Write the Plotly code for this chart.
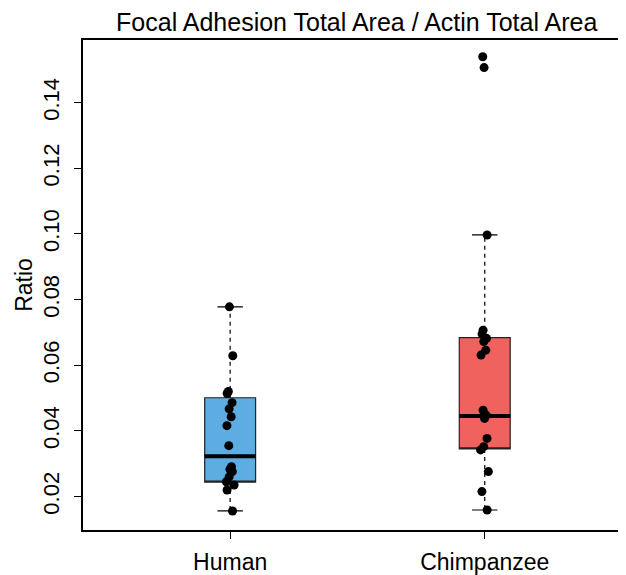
import plotly.graph_objects as go

categories = ["Human", "Chimpanzee"]
colors = ["#5DADE2", "#F0625D"]

human_values = [0.0778, 0.0629, 0.0520, 0.0514, 0.0486, 0.0467, 0.0443, 0.0416, 0.0355,
                0.0291, 0.0283, 0.0276, 0.0260, 0.0245, 0.0235, 0.0220, 0.0156]
chimp_values = [0.1540, 0.1507, 0.0997, 0.0707, 0.0695, 0.0682, 0.0672, 0.0646, 0.0631,
                0.0463, 0.0448, 0.0438, 0.0377, 0.0352, 0.0342, 0.0276, 0.0215, 0.0159]
values = [human_values, chimp_values]

# box statistics (lower whisker, Q1, median, Q3, upper whisker)
lower_whisker = [0.0156, 0.0159]
q1_values = [0.0244, 0.0345]
median_values = [0.0323, 0.0445]
q3_values = [0.0501, 0.0684]
upper_whisker = [0.0778, 0.0997]

yticks = [0.02, 0.04, 0.06, 0.08, 0.10, 0.12, 0.14]
ytick_labels = ["0.02", "0.04", "0.06", "0.08", "0.10", "0.12", "0.14"]

BOX_W = 0.2
fig = go.Figure()

for i, cat in enumerate(categories):
    # dashed whiskers
    fig.add_trace(go.Scatter(
        x=[cat, cat, None, cat, cat],
        y=[q3_values[i], upper_whisker[i], None, q1_values[i], lower_whisker[i]],
        mode="lines", line=dict(color="black", width=1.2, dash="4px,4px"),
        showlegend=False, hoverinfo="skip"))
    # main box
    fig.add_trace(go.Box(
        x=[cat], q1=[q1_values[i]], median=[q1_values[i]], q3=[q3_values[i]],
        lowerfence=[q1_values[i]], upperfence=[q3_values[i]],
        fillcolor=colors[i], line=dict(color="#222222", width=1.2),
        width=BOX_W, whiskerwidth=0, boxpoints=False, showlegend=False))
    # thick median
    m = median_values[i]
    fig.add_trace(go.Box(
        x=[cat], q1=[m], median=[m], q3=[m], lowerfence=[m], upperfence=[m],
        fillcolor="rgba(0,0,0,0)", line=dict(color="black", width=4),
        width=BOX_W, whiskerwidth=0, boxpoints=False, showlegend=False))
    # whisker caps
    for w in (upper_whisker[i], lower_whisker[i]):
        fig.add_trace(go.Box(
            x=[cat], q1=[w], median=[w], q3=[w], lowerfence=[w], upperfence=[w],
            fillcolor="rgba(0,0,0,0)", line=dict(color="black", width=1.2),
            width=BOX_W / 2, whiskerwidth=0, boxpoints=False, showlegend=False))
    # jittered points
    fig.add_trace(go.Box(
        x=[cat] * len(values[i]), y=values[i], boxpoints="all", jitter=0.2, pointpos=0,
        fillcolor="rgba(0,0,0,0)", line=dict(color="rgba(0,0,0,0)", width=0),
        marker=dict(color="black", size=9), width=BOX_W, showlegend=False))

fig.update_layout(
    width=618, height=567,
    margin=dict(l=75, r=0, t=32, b=45),
    paper_bgcolor="white", plot_bgcolor="white",
    boxmode="overlay",
    font=dict(family="Liberation Sans, Arial, sans-serif", color="black"),
    title=dict(text="Focal Adhesion Total Area / Actin Total Area",
               xref="paper", x=0.506, xanchor="center",
               yref="container", y=0.974, yanchor="middle",
               font=dict(size=25, color="black")),
    xaxis=dict(
        type="category", range=[-0.578, 1.547], automargin=False,
        showline=True, linecolor="black", linewidth=1.5, mirror=True,
        ticks="outside", ticklen=7, tickcolor="black", tickwidth=1.2,
        tickfont=dict(size=23), ticklabelstandoff=4,
        showgrid=False, zeroline=False),
    yaxis=dict(
        range=[0.0098, 0.1591], automargin=True,
        tickvals=yticks, ticktext=ytick_labels, tickangle=-90,
        showline=True, linecolor="black", linewidth=1.5, mirror=True,
        ticks="outside", ticklen=7, tickcolor="black", tickwidth=1.2,
        tickfont=dict(size=22), ticklabelstandoff=6,
        title=dict(text="Ratio", font=dict(size=23), standoff=0),
        showgrid=False, zeroline=False),
)

fig.write_html("out.html")
